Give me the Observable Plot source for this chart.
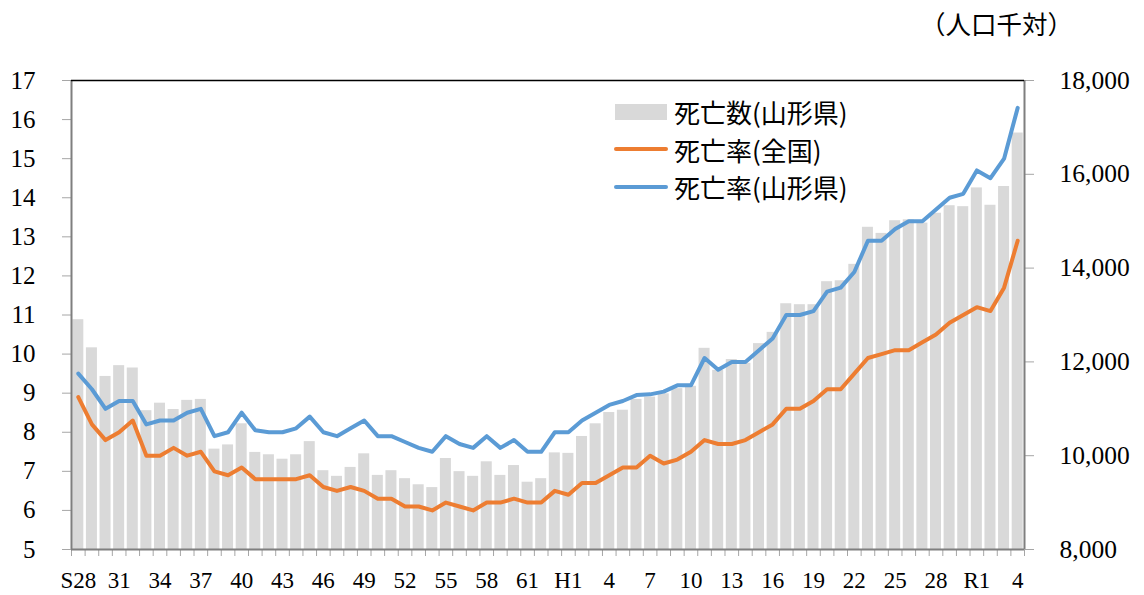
<!DOCTYPE html>
<html>
<head>
<meta charset="utf-8">
<script src="https://cdn.jsdelivr.net/npm/d3@7"></script>
<script src="https://cdn.jsdelivr.net/npm/@observablehq/plot@0.6"></script>
<style>
html, body { margin: 0; padding: 0; background: #fff; }
#wrap { position: relative; width: 1144px; height: 595px; overflow: hidden; background: #fff; }
#chart svg { display: block; }
#unit { position: absolute; left: 920px; top: 6px; font-family: "Noto Sans CJK JP"; font-size: 25.5px; line-height: 34px; color: #000; white-space: nowrap; }
#legend { position: absolute; left: 614px; top: 93px; font-family: "Noto Sans CJK JP"; font-size: 26px; color: #000; }
.row { display: flex; align-items: center; height: 37.5px; white-space: nowrap; }
.sw { width: 54px; margin-right: 6px; display: flex; align-items: center; justify-content: center; }
.box { width: 52px; height: 16px; background: #d9d9d9; }
.ln { width: 54px; height: 4px; border-radius: 2px; }
</style>
</head>
<body>
<div id="wrap">
  <div id="chart"></div>
  <div id="unit">（人口千対）</div>
  <div id="legend"></div>
</div>
<script>
// ---- data ----
const startYear = 1953;
const years = d3.range(startYear, 2023); // S28 .. R4

// 死亡数(山形県) – right axis
const deathsYamagata = [
  12900, 12300, 11690, 11920, 11870, 10960, 11120, 10985, 11180, 11200,
  10140, 10230, 10680, 10070, 10020, 9925, 10020, 10300, 9680, 9560,
  9750, 10040, 9580, 9680, 9510, 9380, 9320, 9940, 9660, 9560,
  9870, 9580, 9790, 9435, 9510, 10060, 10050, 10410, 10680, 10920,
  10970, 11200, 11250, 11320, 11430, 11480, 12290, 11820, 12050, 11970,
  12390, 12630, 13240, 13220, 13220, 13710, 13730, 14080, 14870, 14740,
  15010, 15030, 14960, 15170, 15330, 15310, 15710, 15340, 15740, 16880
];

// 死亡率(全国) – left axis
const rateNational = [
  8.9, 8.2, 7.8, 8.0, 8.3, 7.4, 7.4, 7.6, 7.4, 7.5,
  7.0, 6.9, 7.1, 6.8, 6.8, 6.8, 6.8, 6.9, 6.6, 6.5,
  6.6, 6.5, 6.3, 6.3, 6.1, 6.1, 6.0, 6.2, 6.1, 6.0,
  6.2, 6.2, 6.3, 6.2, 6.2, 6.5, 6.4, 6.7, 6.7, 6.9,
  7.1, 7.1, 7.4, 7.2, 7.3, 7.5, 7.8, 7.7, 7.7, 7.8,
  8.0, 8.2, 8.6, 8.6, 8.8, 9.1, 9.1, 9.5, 9.9, 10.0,
  10.1, 10.1, 10.3, 10.5, 10.8, 11.0, 11.2, 11.1, 11.7, 12.9
];

// 死亡率(山形県) – left axis
const rateYamagata = [
  9.5, 9.1, 8.6, 8.8, 8.8, 8.2, 8.3, 8.3, 8.5, 8.6,
  7.9, 8.0, 8.5, 8.05, 8.0, 8.0, 8.1, 8.4, 8.0, 7.9,
  8.1, 8.3, 7.9, 7.9, 7.75, 7.6, 7.5, 7.9, 7.7, 7.6,
  7.9, 7.6, 7.8, 7.5, 7.5, 8.0, 8.0, 8.3, 8.5, 8.7,
  8.8, 8.95, 8.97, 9.04, 9.2, 9.2, 9.9, 9.6, 9.8, 9.8,
  10.1, 10.4, 11.0, 11.0, 11.1, 11.6, 11.7, 12.1, 12.9, 12.9,
  13.2, 13.4, 13.4, 13.7, 14.0, 14.1, 14.7, 14.5, 15.0, 16.3
];

// tick labels
const labelYears = [1953, 1956, 1959, 1962, 1965, 1968, 1971, 1974, 1977, 1980, 1983, 1986,
                    1989, 1992, 1995, 1998, 2001, 2004, 2007, 2010, 2013, 2016, 2019, 2022];
const xLabels = ["S28", "31", "34", "37", "40", "43", "46", "49", "52", "55", "58", "61",
                 "H1", "4", "7", "10", "13", "16", "19", "22", "25", "28", "R1", "4"];
const leftTicks = [5, 6, 7, 8, 9, 10, 11, 12, 13, 14, 15, 16, 17];
const rightTicks = [8000, 10000, 12000, 14000, 16000, 18000];
const rightLabels = ["8,000", "10,000", "12,000", "14,000", "16,000", "18,000"];

const legendItems = [
  {label: "死亡数(山形県)", kind: "box", color: "#d9d9d9"},
  {label: "死亡率(全国)", kind: "line", color: "#ED7D31"},
  {label: "死亡率(山形県)", kind: "line", color: "#5B9BD5"}
];

// ---- build ----
const leftDomain = [5, 17];
const rightDomain = [8000, 18000];
const toLeft = v => leftDomain[0] + (v - rightDomain[0]) / (rightDomain[1] - rightDomain[0]) * (leftDomain[1] - leftDomain[0]);

const rows = years.map((y, i) => ({year: y, deaths: deathsYamagata[i], nat: rateNational[i], pref: rateYamagata[i]}));
const xDomain = [years[0] - 0.5, years[years.length - 1] + 0.5];
const boundaries = d3.range(years.length + 1).map(i => xDomain[0] + i);

const chart = Plot.plot({
  width: 1144,
  height: 595,
  marginLeft: 71,
  marginRight: 120,
  marginTop: 80,
  marginBottom: 46,
  x: {type: "linear", domain: xDomain},
  y: {domain: leftDomain},
  style: {fontFamily: "'Liberation Serif', serif", fontSize: "24px", color: "#000", background: "#fff", overflow: "visible"},
  marks: [
    Plot.rectY(rows, {x1: d => d.year - 0.5, x2: d => d.year + 0.5, y1: leftDomain[0], y2: d => toLeft(d.deaths),
      fill: "#d9d9d9", insetLeft: 1.3, insetRight: 1.3}),
    Plot.line(rows, {x: "year", y: "nat", stroke: "#ED7D31", strokeWidth: 4}),
    Plot.line(rows, {x: "year", y: "pref", stroke: "#5B9BD5", strokeWidth: 4}),
    Plot.axisY({ticks: leftTicks, tickSize: 9, tickPadding: 27, label: null, fontSize: 25, stroke: "#a6a6a6", fill: "#000"}),
    Plot.axisY({anchor: "right", ticks: rightTicks.map(toLeft), tickSize: 9, tickPadding: 26, label: null, fontSize: 25.5,
      stroke: "#a6a6a6", fill: "#000",
      tickFormat: d => rightLabels[rightTicks.findIndex(v => Math.abs(toLeft(v) - d) < 1e-6)]}),
    Plot.axisX({ticks: boundaries, tickSize: 7, tickFormat: () => "", label: null, stroke: "#a6a6a6"}),
    Plot.axisX({ticks: labelYears, tickSize: 0, tickPadding: 22, label: null, fontSize: 23, fill: "#000",
      tickFormat: d => xLabels[labelYears.indexOf(d)]}),
    Plot.ruleX([xDomain[0], xDomain[1]], {stroke: "#7f7f7f", strokeWidth: 2}),
    Plot.ruleY([leftDomain[0]], {stroke: "#7f7f7f", strokeWidth: 2}),
    Plot.ruleY([leftDomain[1]], {stroke: "#000", strokeWidth: 1.5})
  ]
});
document.getElementById("chart").appendChild(chart);

const legend = document.getElementById("legend");
for (const it of legendItems) {
  const row = document.createElement("div");
  row.className = "row";
  const sw = document.createElement("div");
  sw.className = "sw";
  const mark = document.createElement("div");
  mark.className = it.kind === "box" ? "box" : "ln";
  mark.style.background = it.color;
  sw.appendChild(mark);
  const t = document.createElement("span");
  t.textContent = it.label;
  row.appendChild(sw);
  row.appendChild(t);
  legend.appendChild(row);
}
</script>
</body>
</html>
